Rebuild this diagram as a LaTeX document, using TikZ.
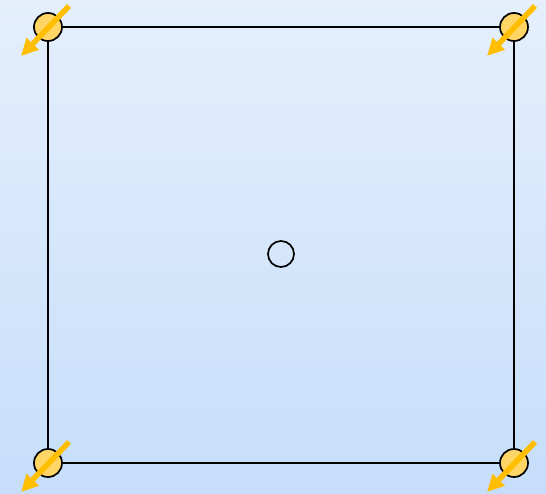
\documentclass[tikz,border=0pt]{standalone}
\usetikzlibrary{arrows.meta}
\definecolor{bgtop}{RGB}{229,239,252}
\definecolor{bgbot}{RGB}{198,222,251}
\definecolor{jointfill}{RGB}{255,214,102}
\definecolor{arrowc}{RGB}{255,190,0}
\tikzset{
  joint/.style={circle,draw=black,line width=1.7pt,fill=jointfill,minimum size=28pt,inner sep=0pt},
  centre/.style={circle,draw=black,line width=1.7pt,minimum size=26pt,inner sep=0pt},
  frameline/.style={draw=black,line width=1.7pt},
  force/.style={draw=arrowc,line width=5.5pt,-{Triangle[length=17pt,width=16pt]},shorten >=0pt}
}
\begin{document}
\begin{tikzpicture}[x=1pt,y=-1pt]
\shade[top color=bgtop,bottom color=bgbot] (0,0) rectangle (546,493);
\useasboundingbox (0,0) rectangle (546,493);
\coordinate (c1) at (48,27);
\coordinate (c2) at (514,27);
\coordinate (c3) at (514,463);
\coordinate (c4) at (48,463);
\draw[frameline] (c1) -- (c2) -- (c3) -- (c4) -- cycle;
\node[joint] (j1) at (c1) {};
\node[joint] (j2) at (c2) {};
\node[joint] (j3) at (c3) {};
\node[joint] (j4) at (c4) {};
\node[centre] (m) at (281,254) {};
\foreach \j in {j1,j2,j3,j4}{
  \coordinate (\j s) at ([shift={(21,-21)}]\j.center);
  \coordinate (\j e) at ([shift={(-27,29)}]\j.center);
  \draw[force] (\j s) -- (\j e);
}
\end{tikzpicture}
\end{document}
